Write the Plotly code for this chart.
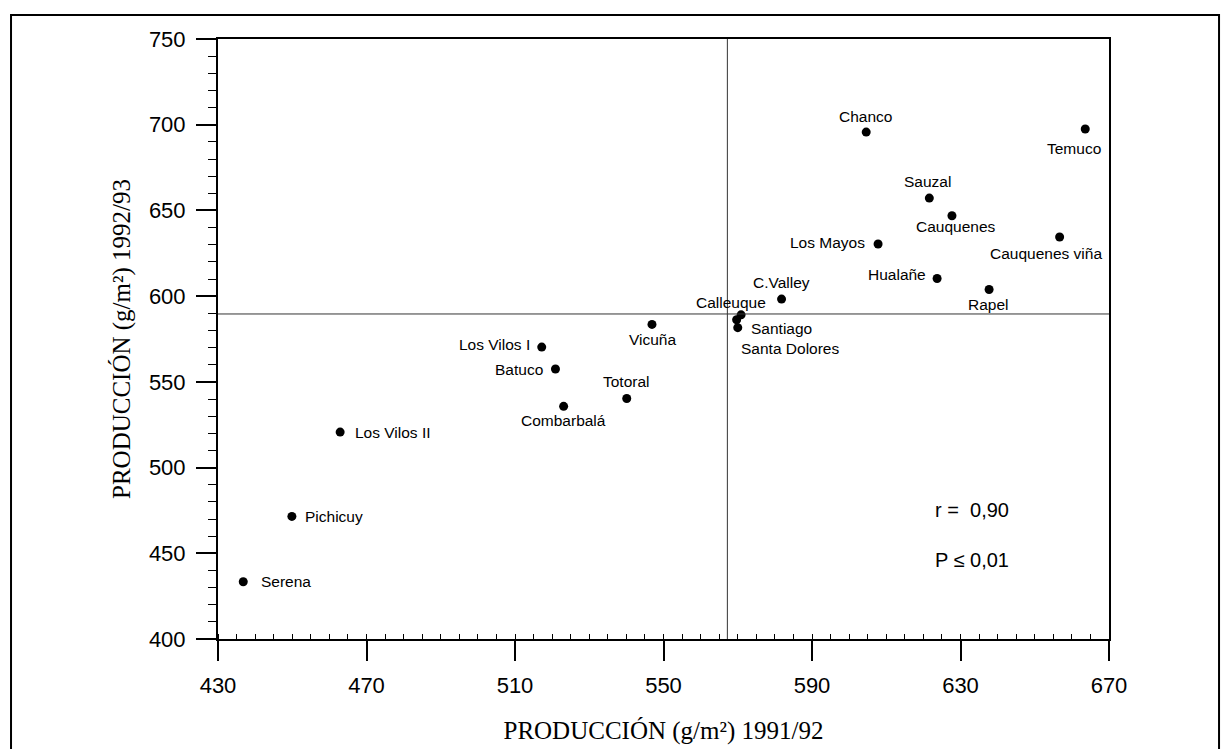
import plotly.graph_objects as go

# ---- data ----
sites = ["Serena", "Pichicuy", "Los Vilos II", "Los Vilos I", "Batuco", "Combarbalá",
         "Totoral", "Vicuña", "Calleuque", "Santiago", "Santa Dolores", "C.Valley",
         "Chanco", "Temuco", "Sauzal", "Cauquenes", "Los Mayos", "Cauquenes viña",
         "Hualañe", "Rapel"]
prod_1991_92 = [436.8, 449.9, 462.9, 517.2, 520.9, 523.1, 540.1, 546.9, 570.9, 569.7,
                570.0, 581.8, 604.6, 663.6, 621.6, 627.7, 607.8, 656.7, 623.7, 637.7]
prod_1992_93 = [433.4, 471.5, 520.7, 570.3, 557.5, 535.7, 540.3, 583.5, 589.1, 586.2,
                581.6, 598.3, 695.7, 697.5, 657.2, 646.9, 630.4, 634.5, 610.3, 603.9]
ref_x = 567.2   # vertical reference line
ref_y = 589.6   # horizontal reference line
x_ticks = [430, 470, 510, 550, 590, 630, 670]
y_ticks = [400, 450, 500, 550, 600, 650, 700, 750]
stats_lines = ["r =  0,90", "P ≤ 0,01"]

# ---- label placement (pixel offsets: dx right, dy down; anchor) ----
label_pos = {
    "Serena": (16, 0, "left"),
    "Pichicuy": (11, 0, "left"),
    "Los Vilos II": (13, 0, "left"),
    "Los Vilos I": (-10, -3, "right"),
    "Batuco": (-10, 0, "right"),
    "Combarbalá": (0, 14, "center"),
    "Totoral": (0, -17, "center"),
    "Vicuña": (1, 15, "center"),
    "Calleuque": (-10, -12, "center"),
    "Santiago": (12, 9, "left"),
    "Santa Dolores": (52, 21, "center"),
    "C.Valley": (0, -17, "center"),
    "Chanco": (-1, -16, "center"),
    "Temuco": (-11, 19, "center"),
    "Sauzal": (-2, -17, "center"),
    "Cauquenes": (4, 11, "center"),
    "Los Mayos": (-11, -2, "right"),
    "Cauquenes viña": (-14, 16, "center"),
    "Hualañe": (-9, -4, "right"),
    "Rapel": (-1, 15, "center"),
}

SANS = "Liberation Sans, Arial, sans-serif"
SERIF = "Liberation Serif, Times New Roman, serif"

fig = go.Figure()
fig.add_trace(go.Scatter(
    x=prod_1991_92, y=prod_1992_93, mode="markers",
    marker=dict(size=9, color="black"), text=sites, hoverinfo="text+x+y",
    showlegend=False,
))

annotations = []
for name, xv, yv in zip(sites, prod_1991_92, prod_1992_93):
    dx, dy, anchor = label_pos[name]
    annotations.append(dict(
        x=xv, y=yv, xref="x", yref="y", text=name, showarrow=False,
        xanchor=anchor, yanchor="middle", xshift=dx, yshift=-dy,
        font=dict(family=SANS, size=15.5, color="black"),
    ))

for i, line in enumerate(stats_lines):
    annotations.append(dict(
        x=0.8025, y=0.215 - i * 0.0833, xref="paper", yref="paper", text=line,
        showarrow=False, xanchor="left", yanchor="middle",
        font=dict(family=SANS, size=20, color="black"),
    ))

shapes = [
    dict(type="line", xref="x", yref="paper", x0=ref_x, x1=ref_x, y0=0, y1=1,
         line=dict(color="#333333", width=1)),
    dict(type="line", xref="paper", yref="y", x0=0, x1=1, y0=ref_y, y1=ref_y,
         line=dict(color="#333333", width=1)),
    dict(type="rect", xref="paper", yref="paper", x0=-0.2323, x1=1.1235,
         y0=-0.35, y1=1.04, line=dict(color="black", width=2), layer="below"),
]

fig.update_layout(
    width=1222, height=749,
    margin=dict(l=218, r=113, t=39, b=110, autoexpand=False),
    paper_bgcolor="white", plot_bgcolor="white",
    annotations=annotations, shapes=shapes,
    xaxis=dict(
        range=[430, 670], tickmode="array", tickvals=x_ticks,
        ticktext=[str(v) for v in x_ticks],
        ticks="outside", ticklen=20, tickwidth=2, tickcolor="black",
        showline=True, linewidth=2, linecolor="black", mirror=True,
        showgrid=False, zeroline=False, automargin=False,
        tickfont=dict(family=SANS, size=22, color="black"),
        ticklabelstandoff=6,
        minor=dict(dtick=5, tick0=430, ticks="inside", ticklen=5, tickwidth=1,
                   tickcolor="black", showgrid=False),
        title=dict(text="PRODUCCIÓN (g/m²) 1991/92", standoff=24,
                   font=dict(family=SERIF, size=25, color="black")),
    ),
    yaxis=dict(
        range=[400, 750], tickmode="array", tickvals=y_ticks,
        ticktext=[str(v) for v in y_ticks],
        ticks="outside", ticklen=20, tickwidth=2, tickcolor="black",
        showline=True, linewidth=2, linecolor="black", mirror=True,
        showgrid=False, zeroline=False, automargin=False,
        tickfont=dict(family=SANS, size=22, color="black"),
        ticklabelstandoff=6,
        minor=dict(dtick=10, tick0=400, ticks="outside", ticklen=8, tickwidth=1,
                   tickcolor="black", showgrid=False),
        title=dict(text="PRODUCCIÓN (g/m²) 1992/93", standoff=11,
                   font=dict(family=SERIF, size=25, color="black")),
    ),
)

fig.write_html("out.html", config={"displayModeBar": False},
               post_script="document.body.style.margin='0';document.body.style.overflow='hidden';")
